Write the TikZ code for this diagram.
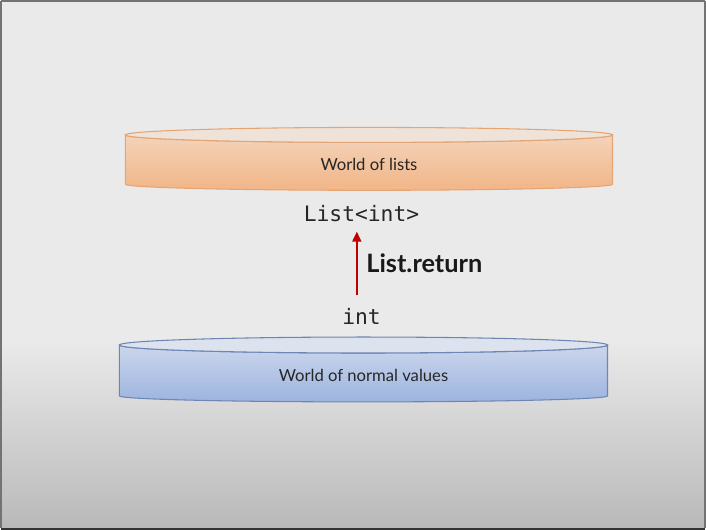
\documentclass[tikz,border=0pt]{standalone}
\usepackage{fontspec}
\setmainfont{Lato}
\setmonofont{DejaVu Sans Mono}
\usetikzlibrary{arrows.meta}

\definecolor{slidetop}{HTML}{EAEAEA}
\definecolor{slidebot}{HTML}{B9B9B9}
\definecolor{listline}{HTML}{E4A575}
\definecolor{listtop}{HTML}{EFE2D8}
\definecolor{listlight}{HTML}{F3D3BA}
\definecolor{listdark}{HTML}{F2B587}
\definecolor{valline}{HTML}{6E86B4}
\definecolor{valtop}{HTML}{DCE3EF}
\definecolor{vallight}{HTML}{CBD6EC}
\definecolor{valdark}{HTML}{9DB4DF}
\definecolor{retred}{HTML}{C00000}

\begin{document}
\begin{tikzpicture}[x=0.75pt,y=0.75pt,yscale=-1,xscale=1,
  worldtext/.style={font=\fontsize{12.5}{14}\selectfont, text=black!85},
  codetext/.style={font=\ttfamily\fontsize{16}{18}\selectfont, text=black!85},
  retarrow/.style={draw=retred, line width=1.7, -{Triangle[length=7.5pt,width=6.5pt]}},
]
  % slide background
  \fill[slidetop] (0,0) rectangle (706,340);
  \shade[top color=slidetop, bottom color=slidebot] (0,340) rectangle (706,528);
  \fill[black!80] (0,528) rectangle (706,530);
  \draw[black!55, line width=1] (0.5,0) -- (0.5,528);
  \draw[black!55, line width=1] (0,0.5) -- (706,0.5);
  \draw[black!55, line width=1] (705.5,0) -- (705.5,528);

  % world of lists
  \shade[top color=listlight, bottom color=listdark, draw=listline, line width=0.8]
    (125,134.5) -- (125,184) arc[start angle=180, end angle=0, x radius=244, y radius=6]
    -- (613,134.5) arc[start angle=0, end angle=180, x radius=244, y radius=7.5] -- cycle;
  \filldraw[fill=listtop, draw=listline, line width=0.8]
    (369,134.5) ellipse[x radius=244, y radius=7.5];
  \node[worldtext] (lists) at (369,164) {World of lists};

  % world of normal values
  \shade[top color=vallight, bottom color=valdark, draw=valline, line width=0.8]
    (119,345) -- (119,396) arc[start angle=180, end angle=0, x radius=244.5, y radius=6]
    -- (608,345) arc[start angle=0, end angle=180, x radius=244.5, y radius=8] -- cycle;
  \filldraw[fill=valtop, draw=valline, line width=0.8]
    (363.5,345) ellipse[x radius=244.5, y radius=8];
  \node[worldtext] (values) at (363.5,375) {World of normal values};

  % types and the return arrow
  \node[codetext] (listint) at (361.5,213) {List<int>};
  \node[codetext] (int) at (361.5,316) {int};
  \draw[retarrow] ([xshift=-3.5,yshift=-6]int.north) -- ([xshift=-3.5,yshift=4]listint.south)
    node[midway, right=3pt, font=\bfseries\fontsize{19}{21}\selectfont, text=black!90] (ret) {List.return};
\end{tikzpicture}
\end{document}
